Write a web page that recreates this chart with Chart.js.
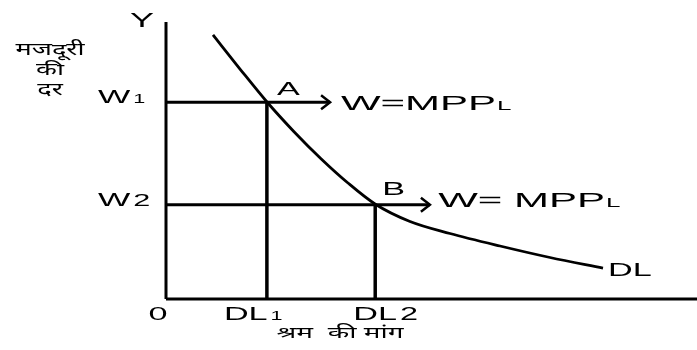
<!DOCTYPE html>
<html>
<head>
<meta charset="utf-8">
<script src="https://cdn.jsdelivr.net/npm/chart.js@4/dist/chart.umd.min.js"></script>
<style>
  html, body { margin: 0; padding: 0; background: #ffffff; }
  #wrap { width: 697px; height: 350px; }
</style>
</head>
<body>
<div id="wrap"><canvas id="c" width="697" height="350"></canvas></div>
<script>
// ---- data (chart units: x 0..10, y 0..10) ----
const curveX = [0.885, 1.394, 1.902, 2.411, 2.919, 3.427, 3.936, 4.595, 5.348, 6.290, 7.232, 8.230];
const curveY = [9.531, 8.303, 7.112, 6.040, 5.065, 4.188, 3.430, 2.798, 2.365, 1.913, 1.498, 1.119];
const wageLevels = [7.10, 3.40];          // W1, W2
const wageLabels = ['W', 'W'];
const wageSubs = ['1', '2'];
const labourDemand = [1.90, 3.94];        // DL1, DL2
const demandLabels = ['DL', 'DL'];
const demandSubs = ['1', '2'];
const arrowEnds = [3.09, 4.97];           // x where the W = MPP arrows end
const pointLabels = ['A', 'B'];
const mppLabels = ['W=MPP', 'W= MPP'];
const mppSub = 'L';
const curveLabel = 'DL';
const originLabel = '0';
const yAxisLabel = 'Y';
const yTitleLines = ['मजदूरी', 'की', 'दर'];
const xTitle = 'श्रम  की मांग';
const axisMax = 10;

const BLACK = '#000000';
const datasets = [];
// axes
datasets.push({ data: [{x: 0, y: 0}, {x: 0, y: axisMax}], borderWidth: 3 });
datasets.push({ data: [{x: 0, y: 0}, {x: axisMax, y: 0}], borderWidth: 3 });
// wage lines with arrows, and demand verticals
for (let i = 0; i < wageLevels.length; i++) {
  datasets.push({ data: [{x: 0, y: wageLevels[i]}, {x: arrowEnds[i], y: wageLevels[i]}], borderWidth: 3 });
  datasets.push({ data: [{x: labourDemand[i], y: 0}, {x: labourDemand[i], y: wageLevels[i]}], borderWidth: 3.5 });
}
// demand curve
datasets.push({
  data: curveX.map((x, i) => ({x, y: curveY[i]})),
  borderWidth: 2.8,
  cubicInterpolationMode: 'monotone'
});
datasets.forEach(d => {
  d.showLine = true; d.borderColor = BLACK; d.pointRadius = 0; d.clip = false;
  d.borderCapStyle = 'butt';
});

const FONT = '"Liberation Sans", Arial, sans-serif';
const HFONT = '"Noto Sans", "Noto Sans Devanagari", "Lohit Devanagari", sans-serif';
const SX = 1.8;

function drawParts(ctx, x, baseline, parts, align, sx) {
  sx = sx || SX;
  let total = 0;
  parts.forEach(p => { ctx.font = p.s + 'px ' + (p.f || FONT); p.w = ctx.measureText(p.t).width * sx + (p.gap || 0); total += p.w; });
  let cx = align === 'center' ? x - total / 2 : x;
  parts.forEach(p => {
    ctx.save();
    ctx.font = p.s + 'px ' + (p.f || FONT);
    ctx.translate(cx + (p.gap || 0), baseline);
    ctx.scale(sx, 1);
    ctx.textAlign = 'left';
    ctx.textBaseline = 'alphabetic';
    ctx.fillStyle = BLACK;
    ctx.fillText(p.t, 0, 0);
    ctx.restore();
    cx += p.w;
  });
}

function drawHindi(ctx, text, cx, cy, size, sx) {
  ctx.save();
  ctx.font = size + 'px ' + HFONT; ctx.fillStyle = BLACK; ctx.textAlign = 'center'; ctx.textBaseline = 'middle';
  ctx.translate(cx, cy); ctx.scale(sx, 1); ctx.fillText(text, 0, 0);
  ctx.restore();
}

const labelPlugin = {
  id: 'labels',
  afterDatasetsDraw(chart) {
    const ctx = chart.ctx;
    const xs = chart.scales.x, ys = chart.scales.y;
    const x0 = xs.getPixelForValue(0), y0 = ys.getPixelForValue(0);
    ctx.save();
    // arrow heads
    ctx.strokeStyle = BLACK; ctx.lineWidth = 2.5; ctx.lineJoin = 'miter';
    for (let i = 0; i < arrowEnds.length; i++) {
      const tx = xs.getPixelForValue(arrowEnds[i]), ty = ys.getPixelForValue(wageLevels[i]);
      ctx.beginPath();
      ctx.moveTo(tx - 9, ty - 7); ctx.lineTo(tx, ty); ctx.lineTo(tx - 9, ty + 7);
      ctx.stroke();
    }
    // Y label
    drawParts(ctx, x0 - 24, ys.getPixelForValue(axisMax) + 5, [{t: yAxisLabel, s: 20}], 'center');
    // y title (Hindi)
    yTitleLines.forEach((t, i) => drawHindi(ctx, t, 50, 50 + i * 20, 17, 1.6));
    // wage labels
    const wSubSize = [12, 17];
    for (let i = 0; i < wageLevels.length; i++) {
      const by = ys.getPixelForValue(wageLevels[i]) + 1;
      drawParts(ctx, x0 - 68, by, [{t: wageLabels[i], s: 19}, {t: wageSubs[i], s: wSubSize[i], gap: 3}], 'left');
    }
    // origin and demand labels
    drawParts(ctx, x0 - 8, y0 + 21, [{t: originLabel, s: 19}], 'center');
    const dOff = [-43, -22];
    const dSubSize = [12, 18];
    for (let i = 0; i < labourDemand.length; i++) {
      drawParts(ctx, xs.getPixelForValue(labourDemand[i]) + dOff[i], y0 + 21,
        [{t: demandLabels[i], s: 19}, {t: demandSubs[i], s: dSubSize[i], gap: 3}], 'left');
    }
    // x title (Hindi)
    drawHindi(ctx, xTitle, 340, y0 + 34, 16, 1.75);
    // A, B and W = MPP labels
    const ptOff = [[10, -7], [7, -10]];
    const mppOff = [[74, 8], [63, 2]];
    for (let i = 0; i < pointLabels.length; i++) {
      const px = xs.getPixelForValue(labourDemand[i]), py = ys.getPixelForValue(wageLevels[i]);
      drawParts(ctx, px + ptOff[i][0], py + ptOff[i][1], [{t: pointLabels[i], s: 19}], 'left');
      drawParts(ctx, px + mppOff[i][0], py + mppOff[i][1], [{t: mppLabels[i], s: 21}, {t: mppSub, s: 13, gap: 1}], 'left', 2.0);
    }
    // DL curve label
    const lx = xs.getPixelForValue(curveX[curveX.length - 1]), ly = ys.getPixelForValue(curveY[curveY.length - 1]);
    drawParts(ctx, lx + 5, ly + 8, [{t: curveLabel, s: 19}], 'left');
    ctx.restore();
  }
};

new Chart(document.getElementById('c'), {
  type: 'scatter',
  data: { datasets },
  options: {
    responsive: false,
    animation: false,
    layout: { padding: { left: 166, top: 22, right: 0, bottom: 51 } },
    plugins: { legend: { display: false }, tooltip: { enabled: false } },
    scales: {
      x: { type: 'linear', min: 0, max: axisMax, display: false },
      y: { type: 'linear', min: 0, max: axisMax, display: false }
    }
  },
  plugins: [labelPlugin]
});
</script>
</body>
</html>
